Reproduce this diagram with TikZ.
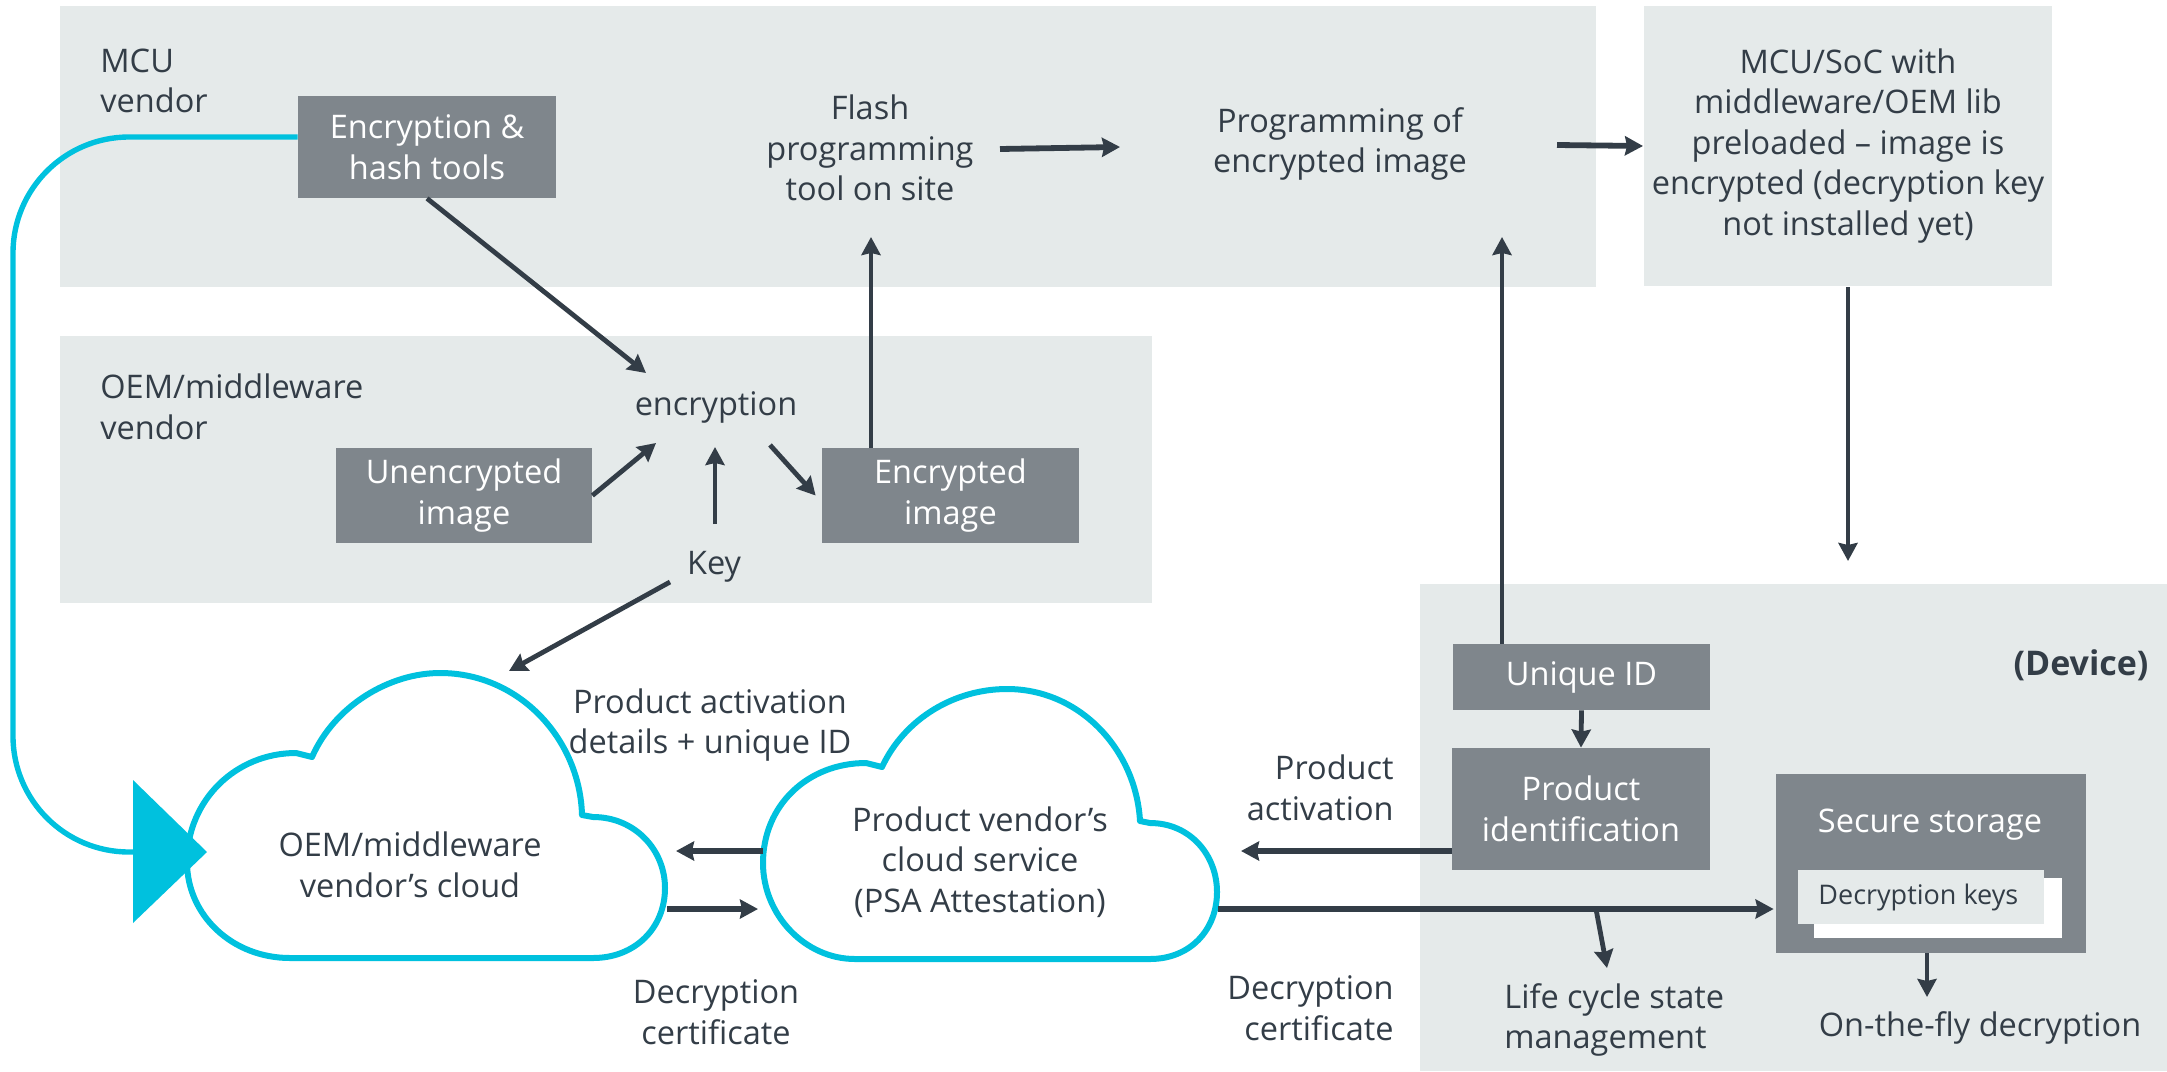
\documentclass[tikz,border=0pt]{standalone}
\usepackage{fontspec}
\setmainfont{Open Sans}
\usetikzlibrary{arrows.meta,calc}
\definecolor{panelgray}{HTML}{E5EAEA}
\definecolor{boxgray}{HTML}{7F868C}
\definecolor{ink}{HTML}{333D47}
\definecolor{cyanline}{HTML}{00C1DE}

\begin{document}
\begin{tikzpicture}[x=0.5pt,y=0.5pt,
  every node/.style={font=\fontsize{16.25}{20.25}\selectfont, text=ink, inner sep=0pt, align=center},
  panel/.style={fill=panelgray},
  graybox/.style={fill=boxgray, text=white, align=center},
  arr/.style={draw=ink, line width=2.4pt, -{Stealth[length=9pt,width=9.5pt,inset=1pt]}},
  thickarr/.style={arr, line width=2.9pt},
  cloudline/.style={draw=cyanline, line width=3pt, fill=white, line join=round},
  cyanlink/.style={draw=cyanline, line width=2.7pt, rounded corners=58pt},
]
\useasboundingbox (0,0) rectangle (2167,-1071);

% background panels
\fill[panel] (60,-6) rectangle (1596,-287);
\fill[panel] (1644,-6) rectangle (2052,-286);
\fill[panel] (60,-336) rectangle (1152,-603);
\fill[panel] (1420,-584) rectangle (2167,-1071);

% grey process boxes
\node[graybox, minimum width=129pt, minimum height=51pt] (enc) at (427,-147) {Encryption \&\\hash tools};
\node[graybox, minimum width=128pt, minimum height=47.5pt] (unenc) at (464,-495.5) {Unencrypted\\image};
\node[graybox, minimum width=128.5pt, minimum height=47.5pt] (encimg) at (950.5,-495.5) {Encrypted\\image};
\node[graybox, minimum width=128.5pt, minimum height=33pt] (uid) at (1581.5,-677) {Unique ID};
\node[graybox, minimum width=129pt, minimum height=61pt] (pid) at (1581,-809) {Product\\identification};
\node[graybox, minimum width=155pt, minimum height=89.5pt] (sec) at (1931,-863.5) {};
\node[text=white] (sectitle) at (1930,-825) {Secure storage};
\fill[white] (1814,-878) rectangle (2062,-938);
\fill[panel] (1798,-870) rectangle (2044,-924);
\node[anchor=west, font=\fontsize{13.5}{16}\selectfont] (keys) at (1818,-897) {Decryption keys};

% plain labels
\node[anchor=west, align=left] (mcuv) at (100,-81) {MCU\\vendor};
\node[anchor=west, align=left] (oemv) at (100,-407) {OEM/middleware\\vendor};
\node (flash) at (870,-148) {Flash\\programming\\tool on site};
\node (encr) at (716,-407) {encryption};
\node (key) at (714,-567) {Key};
\node (prog) at (1340,-144) {Programming of\\encrypted image};
\node (mcusoc) at (1848,-146) {MCU/SoC with\\middleware/OEM lib\\preloaded -- image is\\encrypted (decryption key\\not installed yet)};
\node[font=\fontsize{17}{20}\selectfont\bfseries] (device) at (2081,-665) {(Device)};
\node (actdet) at (710,-725) {Product activation\\details + unique ID};
\node (certL) at (716,-1012) {Decryption\\certificate};
\node[anchor=east, align=right] (actR) at (1394,-788) {Product\\activation};
\node[anchor=east, align=right] (certR) at (1394,-1008) {Decryption\\certificate};
\node[anchor=west, align=left] (life) at (1504,-1020) {Life cycle state\\management};
\node (otf) at (1980,-1028) {On-the-fly decryption};

% clouds
\draw[cloudline] (290,-958) .. controls (232,-958) and (187,-915) .. (187,-862)
  .. controls (187,-800) and (236,-753) .. (296,-753) -- (312,-757)
  .. controls (335,-705) and (390,-673) .. (440,-673)
  .. controls (520,-673) and (580,-740) .. (582,-815) -- (593,-817)
  .. controls (635,-817) and (665,-850) .. (665,-888)
  .. controls (665,-928) and (635,-958) .. (593,-958) -- cycle;
\draw[cloudline] (855,-959) .. controls (805,-959) and (763,-915) .. (763,-863)
  .. controls (763,-805) and (808,-763) .. (866,-763) -- (882,-767)
  .. controls (905,-718) and (955,-689) .. (1007,-689)
  .. controls (1080,-689) and (1136,-750) .. (1140,-821) -- (1150,-823)
  .. controls (1190,-823) and (1217,-855) .. (1217,-892)
  .. controls (1217,-930) and (1190,-959) .. (1150,-959) -- cycle;
\node (oemc) at (410,-865) {OEM/middleware\\vendor’s cloud};
\node (prodc) at (980,-862) {Product vendor’s\\cloud service\\(PSA Attestation)};

% connector ends
\coordinate (encrInA) at (646,-373);
\coordinate (encrInB) at (656,-443);
\coordinate (keyUp) at (715,-524);
\coordinate (encrInC) at (715,-447);
\coordinate (encrOut) at (770,-445);
\coordinate (encimgUp) at (871,-448);
\coordinate (flashIn) at (871,-237);
\coordinate (flashOut) at (1000,-149);
\coordinate (progIn) at (1120,-147);
\coordinate (progOut) at (1557,-145);
\coordinate (socIn) at (1643,-146);
\coordinate (socOut) at (1848,-287);
\coordinate (devIn) at (1848,-561);
\coordinate (progInB) at (1502,-237);
\coordinate (prodcInR) at (1241,-851);
\coordinate (prodcOutR) at (1218,-909);
\coordinate (branch) at (1596,-909);
\coordinate (lifeIn) at (1607,-968);
\coordinate (otfIn) at (1927,-997);
\coordinate (keyOut) at (670,-582);
\coordinate (oemcTop) at (509,-671);
\coordinate (prodcOutL) at (763,-851);
\coordinate (oemcInR) at (676,-851);
\coordinate (oemcOutR) at (667,-909);
\coordinate (prodcInL) at (758,-909);
\coordinate (oemcIn) at (133,-852);

% encryption stage
\draw[arr] (enc.south) -- (encrInA);
\draw[arr] (unenc.east) -- (encrInB);
\draw[arr] (keyUp) -- (encrInC);
\draw[arr] (encrOut) -- ([xshift=-3pt]encimg.west);
\draw[arr] (encimgUp) -- (flashIn);
\draw[thickarr] (flashOut) -- (progIn);
\draw[thickarr] (progOut) -- (socIn);
\draw[arr] (socOut) -- (devIn);

% device side
\draw[arr] (uid.north -| progInB) -- (progInB);
\draw[arr] (uid.south) -- (pid.north);
\draw[thickarr] ([yshift=-21pt]pid.west) -- (prodcInR);
\draw[thickarr] (prodcOutR) -- ([xshift=-1pt,yshift=-22.75pt]sec.west);
\draw[arr] (branch) -- (lifeIn);
\draw[arr] (sec.south -| otfIn) -- (otfIn);

% cloud exchanges
\draw[arr] (keyOut) -- (oemcTop);
\draw[thickarr] (prodcOutL) -- (oemcInR);
\draw[thickarr] (oemcOutR) -- (prodcInL);

% tool link into the middleware cloud
\draw[cyanlink] ([yshift=5pt]enc.west) -- (13,-137) -- (13,-852) -- (oemcIn);
\fill[cyanline] (133,-780) -- (207,-852) -- (133,-923) -- cycle;
\end{tikzpicture}
\end{document}
